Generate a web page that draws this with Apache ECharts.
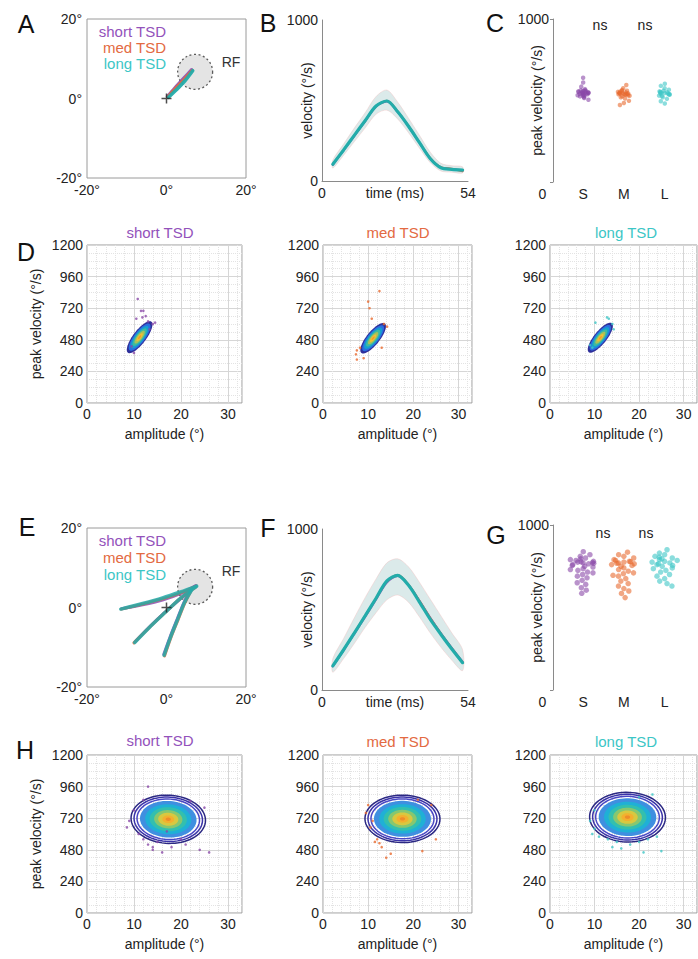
<!DOCTYPE html>
<html>
<head>
<meta charset="utf-8">
<script src="https://cdn.jsdelivr.net/npm/echarts@6/dist/echarts.min.js"></script>
<style>
  html, body { margin: 0; padding: 0; background: #fff; }
  #fig { width: 698px; height: 959px; }
</style>
</head>
<body>
<div id="fig"></div>
<script>
// ---------- data ----------
var groups = ['short TSD', 'med TSD', 'long TSD']
var swarmCats = ['0', 'S', 'M', 'L']

// A: saccade paths (deg), receptive field [x, y, radius]
var aShortPath = [[0.2, 0.5], [2, 2.6], [4.2, 5], [6.3, 7.3]]
var aMedPath = [[0.3, 0.4], [2.2, 2.5], [4.4, 4.8], [6.5, 7.1]]
var aLongPath = [[0.5, 0.3], [2.5, 2.2], [4.6, 4.4], [6.6, 7.0]]
var aRF = [7.2, 6.7, 4.4]

// E: three saccade paths per group
var eShortPaths = [
  [[-11.3, -0.3], [-6, 0.7], [-1, 1.9], [3.5, 3.5], [7.4, 5.5]],
  [[-7.9, -8.6], [-4.5, -5.1], [-0.5, -1.3], [3.5, 2.2], [7.2, 5.4]],
  [[-0.7, -11.8], [0.9, -7.4], [2.7, -2.9], [4.4, 1.3], [6, 4.4]]
]
var eMedPaths = [
  [[-11.4, -0.4], [-6, 0.9], [-1, 2.2], [3.5, 3.7], [7.5, 5.4]],
  [[-8.2, -8.9], [-4.6, -5.3], [-0.6, -1.5], [3.4, 2.2], [7.3, 5.1]],
  [[-0.5, -12.2], [1.1, -7.6], [2.9, -3.1], [4.6, 1.1], [6.1, 4.1]]
]
var eLongPaths = [
  [[-11.5, -0.4], [-6, 1.0], [-1, 2.4], [3.5, 3.9], [7.6, 5.4]],
  [[-8, -8.8], [-4.5, -5.2], [-0.5, -1.4], [3.5, 2.3], [7.4, 5.2]],
  [[-0.6, -12], [1, -7.5], [2.8, -3], [4.5, 1.2], [6.2, 4.2]]
]
var eRF = [7.2, 5.2, 4.4]

// B / F: velocity profiles (deg/s) over time (ms)
var timeMs = [4, 8, 12, 16, 20, 24, 28, 32, 36, 40, 44, 48, 52]
var bShort = [100, 190, 280, 372, 462, 494, 428, 338, 238, 140, 84, 74, 66]
var bMed = [104, 194, 284, 375, 465, 498, 432, 342, 242, 144, 86, 76, 60]
var bLong = [104, 193, 285, 376, 466, 497, 430, 340, 240, 140, 82, 72, 68]
var bLow = [80, 160, 245, 330, 415, 440, 385, 300, 205, 115, 62, 55, 50]
var bHigh = [130, 230, 330, 425, 525, 565, 490, 390, 285, 180, 110, 95, 88]

var fShort = [146, 246, 350, 455, 562, 668, 708, 652, 555, 450, 352, 262, 176]
var fMed = [150, 250, 356, 462, 570, 676, 714, 655, 555, 448, 350, 258, 172]
var fLong = [150, 250, 355, 462, 570, 678, 712, 650, 548, 440, 345, 255, 170]
var fLow = [110, 195, 290, 390, 480, 560, 590, 545, 455, 355, 265, 185, 120]
var fHigh = [195, 320, 450, 575, 690, 790, 815, 765, 670, 565, 460, 355, 250]

// C / G: peak velocity per trial (deg/s)
var cShort = [545, 552, 538, 560, 530, 548, 541, 556, 525, 563, 535, 550, 543, 570, 520, 558, 547, 532, 585, 610, 640, 515, 505, 553, 539, 546, 562, 528, 551, 544]
var cMed = [540, 548, 532, 555, 525, 545, 538, 560, 520, 565, 512, 550, 542, 575, 595, 498, 485, 472, 535, 547, 529, 553, 541, 558, 537, 544]
var cLong = [545, 552, 538, 560, 530, 548, 541, 575, 590, 603, 520, 510, 495, 482, 556, 535, 549, 543, 566, 527, 551, 539]
var gShort = [770, 775, 765, 780, 760, 785, 755, 790, 745, 800, 735, 810, 725, 820, 838, 715, 700, 690, 680, 665, 650, 640, 620, 605, 586, 772, 768, 778, 795, 750, 730, 710]
var gMed = [775, 770, 780, 765, 790, 760, 800, 750, 810, 740, 820, 835, 730, 720, 705, 690, 675, 660, 645, 630, 615, 600, 585, 560, 778, 768, 785, 755, 710, 695]
var gLong = [780, 790, 770, 800, 760, 810, 750, 820, 740, 830, 850, 735, 725, 715, 700, 690, 675, 660, 645, 630, 785, 775, 795, 765, 805, 755]

// D / H: main sequence trials [amplitude, peak velocity]
var dShortPts = [[10.8, 790], [11.5, 700], [11.8, 650], [12.5, 660], [13, 620], [14, 600], [14.5, 610], [9.5, 430], [10, 380], [13.3, 560], [12, 700], [10.5, 640]]
var dMedPts = [[12.5, 850], [10, 770], [10.3, 720], [10.8, 640], [7.5, 400], [7.3, 370], [7.5, 330], [8.2, 420], [9, 340], [13.5, 600], [14.2, 580], [13, 420]]
var dLongPts = [[13.2, 640], [14, 600], [14.3, 560], [9.5, 420], [10.2, 610], [12.8, 650], [9, 440]]
var hShortPts = [[13, 960], [12, 860], [10, 780], [9, 700], [8.5, 650], [12, 560], [13, 520], [14, 480], [16, 460], [18, 500], [21, 520], [26, 460], [24, 480], [22, 850], [25, 800], [11, 600], [15, 540], [20, 560], [14, 500], [17, 620]]
var hMedPts = [[10, 820], [9.5, 760], [11, 700], [10.5, 650], [12, 560], [12.5, 530], [11.5, 540], [13, 500], [15, 450], [22, 470], [25, 560], [21, 860], [24, 820], [14, 420]]
var hLongPts = [[10, 780], [9, 700], [10, 640], [9.5, 600], [11, 580], [13, 560], [15, 540], [18, 520], [20, 540], [22, 560], [24, 580], [20, 880], [23, 900], [14, 500], [16, 490], [25, 470], [21, 460]]

// density contour ellipses: [cx, cy, major dx, major dy, minor dx, minor dy]
var dShortEll = [11.2, 500, 2.5, 118, 1.1, -30]
var dMedEll = [11.1, 492, 2.6, 112, 1.15, -30]
var dLongEll = [11.3, 496, 2.6, 110, 1.1, -30]
var hShortEll = [17.3, 712, 7.9, -22, 0.6, 182]
var hMedEll = [17.6, 715, 8.3, -8, 0.3, 180]
var hLongEll = [17.4, 728, 8.5, -12, 0.4, 188]

// ---------- style ----------
var font = 'Liberation Sans, Arial, sans-serif'
var lineColors = ['#8b4fb3', '#e2683c', '#22acaa']
var textColors = ['#9352bb', '#e36a42', '#3cc6c6']
var dotColors = ['#8a4aa8', '#e86a30', '#3ec6c6']
var dFill = [1, 0.85, 0.7, 0.55, 0.4, 0.25, 0.12]
var dFillColors = ['#2e2f9a', '#2a6ee0', '#15a0cf', '#3fba9f', '#a8c25a', '#efbf36', '#f39a2a']
var hRing = [1, 0.92, 0.84]
var hRingColors = ['#2b2883', '#3a33a8', '#4a48c4']
var hFill = [0.76, 0.62, 0.5, 0.38, 0.27, 0.16, 0.07]
var hFillColors = ['#3f8fe0', '#1fb0d6', '#33bfae', '#86c770', '#d8c840', '#f3b02e', '#ee8c2a']

var chart = echarts.init(document.getElementById('fig'), null, { renderer: 'svg' })

function deg (v) { return v + '°' }
function plain (v) { return String(v) }
function lbl (extra) {
  return Object.assign({ color: '#222', fontSize: 14, fontFamily: font, margin: 5, formatter: plain }, extra || {})
}
var nameStyle = { color: '#222', fontSize: 14, fontFamily: font }

function g (left, top, width, height, box) {
  return { left: left, top: top, width: width, height: height, show: !!box,
    borderColor: '#9a9a9a', borderWidth: 1, backgroundColor: 'transparent', outerBoundsMode: 'none' }
}

var grids = [
  g(87, 19, 159, 159, true),   // A
  g(322, 20, 146, 161),        // B
  g(522, 19, 163, 163),        // C
  g(87, 245, 155, 158, true),  // D short
  g(323, 245, 149, 158, true), // D med
  g(550, 245, 147, 158, true), // D long
  g(87, 528, 159, 159, true),  // E
  g(322, 529, 146, 161),       // F
  g(522, 525, 163, 165),       // G
  g(87, 755, 155, 158, true),  // H short
  g(323, 755, 149, 158, true), // H med
  g(550, 755, 147, 158, true)  // H long
]

// ---------- axes ----------
function fieldAxis (gi) {
  return { gridIndex: gi, type: 'value', min: -20, max: 20, interval: 20,
    axisLine: { show: false }, axisTick: { show: false }, splitLine: { show: false },
    axisLabel: lbl({ formatter: deg }) }
}
function timeAxis (gi) {
  return { gridIndex: gi, type: 'value', min: 0, max: 54, interval: 54,
    name: 'time (ms)', nameLocation: 'middle', nameGap: 5, nameTextStyle: nameStyle, nameMoveOverlap: false,
    axisLine: { show: true, onZero: false, lineStyle: { color: '#8a8a8a' } },
    axisTick: { show: false }, splitLine: { show: false }, axisLabel: lbl() }
}
function velAxis (gi) {
  return { gridIndex: gi, type: 'value', min: 0, max: 1000, interval: 1000,
    name: 'velocity (°/s)', nameLocation: 'middle', nameGap: 8, nameTextStyle: nameStyle, nameMoveOverlap: false,
    axisLine: { show: true, onZero: false, lineStyle: { color: '#8a8a8a' } },
    axisTick: { show: false }, splitLine: { show: false }, axisLabel: lbl({ margin: 4 }) }
}
function swarmX (gi, jit) {
  return { gridIndex: gi, type: 'category', data: swarmCats, jitter: jit, jitterOverlap: false, jitterMargin: 0,
    axisLine: { show: false }, axisTick: { show: false }, splitLine: { show: false }, axisLabel: lbl({ margin: 5, formatter: null }) }
}
function swarmY (gi) {
  return { gridIndex: gi, type: 'value', min: 0, max: 1000, interval: 1000, offset: -31,
    name: 'peak velocity (°/s)', nameLocation: 'middle', nameGap: 9, nameTextStyle: nameStyle, nameMoveOverlap: false,
    axisLine: { show: true, lineStyle: { color: '#8a8a8a' } },
    axisTick: { show: true, length: 3, lineStyle: { color: '#8a8a8a' } }, splitLine: { show: false },
    axisLabel: lbl({ margin: 4, formatter: function (v) { return v === 0 ? '' : String(v) } }) }
}
function ampAxis (gi) {
  return { gridIndex: gi, type: 'value', min: 0, max: 33, interval: 10,
    name: 'amplitude (°)', nameLocation: 'middle', nameGap: 24, nameTextStyle: nameStyle, nameMoveOverlap: false,
    axisLine: { show: false }, axisTick: { show: false },
    splitLine: { show: true, lineStyle: { color: '#d6d6d6' } },
    minorTick: { show: false, splitNumber: 5 },
    minorSplitLine: { show: true, lineStyle: { color: '#e3e3e3', type: 'dotted' } },
    axisLabel: lbl({ margin: 4, showMaxLabel: false }) }
}
function peakAxis (gi, named) {
  return { gridIndex: gi, type: 'value', min: 0, max: 1200, interval: 240,
    name: named ? 'peak velocity (°/s)' : '', nameLocation: 'middle', nameGap: 44, nameTextStyle: nameStyle, nameMoveOverlap: false,
    axisLine: { show: false }, axisTick: { show: false },
    splitLine: { show: true, lineStyle: { color: '#d6d6d6' } },
    minorTick: { show: false, splitNumber: 4 },
    minorSplitLine: { show: true, lineStyle: { color: '#e3e3e3', type: 'dotted' } },
    axisLabel: lbl({ margin: 4 }) }
}

var xAxes = [fieldAxis(0), timeAxis(1), swarmX(2, 12), ampAxis(3), ampAxis(4), ampAxis(5),
  fieldAxis(6), timeAxis(7), swarmX(8, 26), ampAxis(9), ampAxis(10), ampAxis(11)]
var yAxes = [fieldAxis(0), velAxis(1), swarmY(2), peakAxis(3, true), peakAxis(4), peakAxis(5),
  fieldAxis(6), velAxis(7), swarmY(8), peakAxis(9, true), peakAxis(10), peakAxis(11)]

// ---------- series ----------
var series = []

function pathLine (name, gi, data, color, width, opacity) {
  return { type: 'line', name: name, xAxisIndex: gi, yAxisIndex: gi, data: data, symbol: 'none',
    smooth: 0.3, silent: true, lineStyle: { color: color, width: width, opacity: opacity, cap: 'round' },
    itemStyle: { color: color } }
}
function rfSeries (gi, rf) {
  return { type: 'custom', xAxisIndex: gi, yAxisIndex: gi, silent: true, data: [rf],
    renderItem: function (params, api) {
      var c = api.coord([api.value(0), api.value(1)])
      var r = api.size([api.value(2), 0])[0]
      return { type: 'circle', shape: { cx: c[0], cy: c[1], r: r },
        style: { fill: '#e4e4e4', stroke: '#5a5a5a', lineWidth: 1.3, lineDash: [2, 2.5] } }
    } }
}
function fixation (gi) {
  return { type: 'scatter', xAxisIndex: gi, yAxisIndex: gi, silent: true, data: [[0, 0]],
    symbol: 'path://M4,0h1.4v4h4v1.4h-4v4h-1.4v-4h-4v-1.4h4z', symbolSize: 10,
    itemStyle: { color: '#222' }, z: 5 }
}
function bandSeries (gi, low, high) {
  return { type: 'custom', xAxisIndex: gi, yAxisIndex: gi, silent: true,
    data: timeMs.map(function (t, i) { return [t, low[i], high[i]] }), encode: { x: 0, y: [1, 2] },
    renderItem: function (params, api) {
      if (params.dataIndex !== 0) return null
      var pts = []
      for (var i = 0; i < timeMs.length; i++) pts.push(api.coord([timeMs[i], high[i]]))
      for (var j = timeMs.length - 1; j >= 0; j--) pts.push(api.coord([timeMs[j], low[j]]))
      return { type: 'polygon', shape: { points: pts, smooth: 0.3 },
        style: { fill: 'rgba(195, 220, 220, 0.6)', stroke: 'rgba(240, 180, 180, 0.35)', lineWidth: 1 } }
    } }
}
function swarm (name, gi, cat, vals, color, size) {
  return { type: 'scatter', name: name, xAxisIndex: gi, yAxisIndex: gi, silent: true,
    data: vals.map(function (v) { return [cat, v] }), symbolSize: size,
    itemStyle: { color: color, opacity: 0.6 } }
}
function dots (name, gi, pts, color) {
  return { type: 'scatter', name: name, xAxisIndex: gi, yAxisIndex: gi, silent: true, data: pts,
    symbolSize: 2.6, itemStyle: { color: color, opacity: 0.8 } }
}
function contour (name, gi, ell, scales, colors, ring) {
  return { type: 'custom', name: name, xAxisIndex: gi, yAxisIndex: gi, silent: true, clip: true,
    data: scales.map(function (s, i) { return [ell[0], ell[1], i] }), encode: { x: 0, y: 1 },
    renderItem: function (params, api) {
      var k = api.value(2)
      var s = scales[k]
      var pts = []
      for (var j = 0; j < 72; j++) {
        var a = j / 72 * 2 * Math.PI
        var c = Math.cos(a)
        var sn = Math.sin(a)
        pts.push(api.coord([ell[0] + s * (ell[2] * c + ell[4] * sn), ell[1] + s * (ell[3] * c + ell[5] * sn)]))
      }
      return { type: 'polygon', shape: { points: pts },
        style: ring ? { fill: 'none', stroke: colors[k], lineWidth: 1.5 } : { fill: colors[k] } }
    } }
}

// A
series.push(rfSeries(0, aRF))
series.push(pathLine(groups[0], 0, aShortPath, lineColors[0], 3, 0.9))
series.push(pathLine(groups[1], 0, aMedPath, lineColors[1], 3, 0.9))
series.push(pathLine(groups[2], 0, aLongPath, lineColors[2], 3.5, 0.95))
series.push(fixation(0))

// B
series.push(bandSeries(1, bLow, bHigh))
series.push(pathLine(groups[0], 1, timeMs.map(function (t, i) { return [t, bShort[i]] }), lineColors[0], 2, 0.9))
series.push(pathLine(groups[1], 1, timeMs.map(function (t, i) { return [t, bMed[i]] }), lineColors[1], 2, 0.9))
series.push(pathLine(groups[2], 1, timeMs.map(function (t, i) { return [t, bLong[i]] }), lineColors[2], 3.2, 1))

// C
series.push(swarm(groups[0], 2, 'S', cShort, dotColors[0], 4.5))
series.push(swarm(groups[1], 2, 'M', cMed, dotColors[1], 4.5))
series.push(swarm(groups[2], 2, 'L', cLong, dotColors[2], 4.5))

// D
var dPts = [dShortPts, dMedPts, dLongPts]
var dElls = [dShortEll, dMedEll, dLongEll]
for (var i = 0; i < 3; i++) {
  series.push(dots(groups[i], 3 + i, dPts[i], dotColors[i]))
  series.push(contour(groups[i], 3 + i, dElls[i], dFill, dFillColors, false))
}

// E
series.push(rfSeries(6, eRF))
var ePaths = [eShortPaths, eMedPaths, eLongPaths]
for (var gI = 0; gI < 3; gI++) {
  ePaths[gI].forEach(function (p) {
    series.push(pathLine(groups[gI], 6, p, lineColors[gI], gI === 2 ? 3.5 : 3, 0.85))
  })
}
series.push(fixation(6))

// F
series.push(bandSeries(7, fLow, fHigh))
series.push(pathLine(groups[0], 7, timeMs.map(function (t, i) { return [t, fShort[i]] }), lineColors[0], 2, 0.9))
series.push(pathLine(groups[1], 7, timeMs.map(function (t, i) { return [t, fMed[i]] }), lineColors[1], 2, 0.9))
series.push(pathLine(groups[2], 7, timeMs.map(function (t, i) { return [t, fLong[i]] }), lineColors[2], 3.2, 1))

// G
series.push(swarm(groups[0], 8, 'S', gShort, dotColors[0], 5.5))
series.push(swarm(groups[1], 8, 'M', gMed, dotColors[1], 5.5))
series.push(swarm(groups[2], 8, 'L', gLong, dotColors[2], 5.5))

// H
var hPts = [hShortPts, hMedPts, hLongPts]
var hElls = [hShortEll, hMedEll, hLongEll]
for (var k = 0; k < 3; k++) {
  series.push(dots(groups[k], 9 + k, hPts[k], dotColors[k]))
  series.push(contour(groups[k], 9 + k, hElls[k], hRing, hRingColors, true))
  series.push(contour(groups[k], 9 + k, hElls[k], hFill, hFillColors, false))
}

// ---------- text ----------
function txt (s, x, y, size, color) {
  return { type: 'text', x: x, y: y, silent: true,
    style: { text: s, fontSize: size, fontFamily: font, fill: color || '#111',
      textAlign: 'center', textVerticalAlign: 'middle' } }
}
var graphic = [
  txt('A', 26, 24, 25), txt('B', 268, 23, 25), txt('C', 495, 23, 25), txt('D', 26, 252, 25),
  txt('E', 27, 527, 25), txt('F', 268, 528, 25), txt('G', 496, 535, 25), txt('H', 25, 750, 25),
  txt('short TSD', 160, 232, 15, textColors[0]), txt('med TSD', 398, 232, 15, textColors[1]), txt('long TSD', 626, 232, 15, textColors[2]),
  txt('short TSD', 160, 740, 15, textColors[0]), txt('med TSD', 398, 741, 15, textColors[1]), txt('long TSD', 626, 741, 15, textColors[2]),
  txt('ns', 600, 25, 14, '#222'), txt('ns', 645, 25, 14, '#222'),
  txt('ns', 603, 533, 14, '#222'), txt('ns', 646, 533, 14, '#222'),
  txt('RF', 231, 62, 14, '#333'), txt('RF', 231, 571, 14, '#333')
]

var legendData = groups.map(function (n, i) { return { name: n, textStyle: { color: textColors[i] } } })
function legendAt (top, gap) {
  return { top: top, right: 526, orient: 'vertical', align: 'right', itemWidth: 0, itemHeight: 0,
    itemGap: gap, padding: 0, selectedMode: false, data: legendData,
    textStyle: { fontSize: 15, fontFamily: font } }
}

chart.setOption({
  animation: false,
  backgroundColor: '#fff',
  textStyle: { fontFamily: font },
  grid: grids,
  xAxis: xAxes,
  yAxis: yAxes,
  legend: [legendAt(24, 1), legendAt(533, 2)],
  graphic: graphic,
  series: series
})
</script>
</body>
</html>
